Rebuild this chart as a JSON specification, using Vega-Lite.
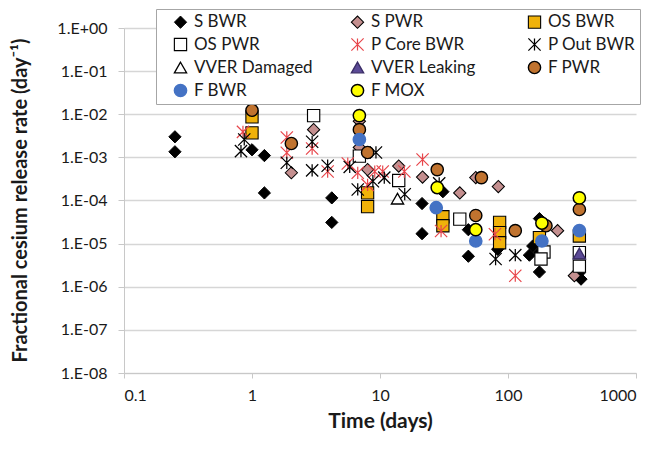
{
  "$schema": "https://vega.github.io/schema/vega-lite/v6.json",
  "autosize": {"type": "none"},
  "padding": {"left": 124, "top": 28, "right": 29, "bottom": 76},
  "width": 512,
  "height": 345,
  "config": {
    "view": {"stroke": null},
    "font": "Lato",
    "axis": {"labelFont": "Lato", "titleFont": "Lato", "labelColor": "#1a1a1a", "titleColor": "#1a1a1a"},
    "legend": {"labelFont": "Lato"}
  },
  "data": {"values": [
    {"s": "S BWR", "t": 0.25, "v": 0.0030},
    {"s": "S BWR", "t": 0.25, "v": 0.00135},
    {"s": "S BWR", "t": 1.0, "v": 0.0015},
    {"s": "S BWR", "t": 1.25, "v": 0.0011},
    {"s": "S BWR", "t": 1.25, "v": 0.00015},
    {"s": "S BWR", "t": 4.2, "v": 0.000115},
    {"s": "S BWR", "t": 4.2, "v": 0.000031},
    {"s": "S BWR", "t": 21.3, "v": 0.000085},
    {"s": "S BWR", "t": 21.3, "v": 0.000017},
    {"s": "S BWR", "t": 31, "v": 0.00016},
    {"s": "S BWR", "t": 49, "v": 0.000021},
    {"s": "S BWR", "t": 49, "v": 0.0000051},
    {"s": "S BWR", "t": 83, "v": 0.0000074},
    {"s": "S BWR", "t": 147, "v": 0.0000054},
    {"s": "S BWR", "t": 156, "v": 0.0000088},
    {"s": "S BWR", "t": 176, "v": 0.000038},
    {"s": "S BWR", "t": 176, "v": 0.0000062},
    {"s": "S BWR", "t": 176, "v": 0.0000022},
    {"s": "S BWR", "t": 361, "v": 0.0000021},
    {"s": "S BWR", "t": 372, "v": 0.0000015},
    {"s": "S PWR", "t": 2.03, "v": 0.00044},
    {"s": "S PWR", "t": 3.03, "v": 0.0044},
    {"s": "S PWR", "t": 6.9, "v": 0.0069},
    {"s": "S PWR", "t": 6.9, "v": 0.0017},
    {"s": "S PWR", "t": 8.0, "v": 0.00052},
    {"s": "S PWR", "t": 14.0, "v": 0.00063},
    {"s": "S PWR", "t": 21.5, "v": 0.00035},
    {"s": "S PWR", "t": 42, "v": 0.00015},
    {"s": "S PWR", "t": 56, "v": 0.00034},
    {"s": "S PWR", "t": 84, "v": 0.00021},
    {"s": "S PWR", "t": 244, "v": 0.000020},
    {"s": "S PWR", "t": 330, "v": 0.0000018},
    {"s": "OS BWR", "t": 1.0, "v": 0.0087},
    {"s": "OS BWR", "t": 1.0, "v": 0.0037},
    {"s": "OS BWR", "t": 8.0, "v": 0.00015},
    {"s": "OS BWR", "t": 8.0, "v": 0.000072},
    {"s": "OS BWR", "t": 31, "v": 0.000042},
    {"s": "OS BWR", "t": 31, "v": 0.000026},
    {"s": "OS BWR", "t": 86, "v": 0.000031},
    {"s": "OS BWR", "t": 86, "v": 0.000018},
    {"s": "OS BWR", "t": 86, "v": 0.0000105},
    {"s": "OS BWR", "t": 176, "v": 0.0000138},
    {"s": "OS BWR", "t": 361, "v": 0.000015},
    {"s": "OS PWR", "t": 3.03, "v": 0.0093},
    {"s": "OS PWR", "t": 6.9, "v": 0.00107},
    {"s": "OS PWR", "t": 14.0, "v": 0.00029},
    {"s": "OS PWR", "t": 42, "v": 0.000037},
    {"s": "OS PWR", "t": 191, "v": 0.0000064},
    {"s": "OS PWR", "t": 181, "v": 0.0000044},
    {"s": "OS PWR", "t": 361, "v": 0.0000062},
    {"s": "OS PWR", "t": 361, "v": 0.0000030},
    {"s": "P Core BWR", "t": 0.85, "v": 0.0039},
    {"s": "P Core BWR", "t": 1.87, "v": 0.0029},
    {"s": "P Core BWR", "t": 1.87, "v": 0.00128},
    {"s": "P Core BWR", "t": 2.95, "v": 0.0016},
    {"s": "P Core BWR", "t": 3.9, "v": 0.00047},
    {"s": "P Core BWR", "t": 5.6, "v": 0.00072},
    {"s": "P Core BWR", "t": 6.7, "v": 0.00044},
    {"s": "P Core BWR", "t": 8.0, "v": 0.00023},
    {"s": "P Core BWR", "t": 9.1, "v": 0.00047},
    {"s": "P Core BWR", "t": 10.5, "v": 0.00047},
    {"s": "P Core BWR", "t": 15.5, "v": 0.00047},
    {"s": "P Core BWR", "t": 21.5, "v": 0.00089},
    {"s": "P Core BWR", "t": 30, "v": 0.0000196},
    {"s": "P Core BWR", "t": 79, "v": 0.0000165},
    {"s": "P Core BWR", "t": 114, "v": 0.0000018},
    {"s": "P Out BWR", "t": 0.87, "v": 0.0026},
    {"s": "P Out BWR", "t": 0.82, "v": 0.0014},
    {"s": "P Out BWR", "t": 1.87, "v": 0.00075},
    {"s": "P Out BWR", "t": 2.95, "v": 0.0023},
    {"s": "P Out BWR", "t": 2.95, "v": 0.00050},
    {"s": "P Out BWR", "t": 3.9, "v": 0.00064},
    {"s": "P Out BWR", "t": 5.8, "v": 0.00060},
    {"s": "P Out BWR", "t": 6.7, "v": 0.00018},
    {"s": "P Out BWR", "t": 9.3, "v": 0.0013},
    {"s": "P Out BWR", "t": 10.8, "v": 0.00034},
    {"s": "P Out BWR", "t": 8.8, "v": 0.00028},
    {"s": "P Out BWR", "t": 15.6, "v": 0.00014},
    {"s": "P Out BWR", "t": 29, "v": 0.00025},
    {"s": "P Out BWR", "t": 80, "v": 0.0000044},
    {"s": "P Out BWR", "t": 114, "v": 0.0000054},
    {"s": "VVER Damaged", "t": 13.7, "v": 0.00011},
    {"s": "VVER  Leaking", "t": 361, "v": 0.0000059},
    {"s": "F PWR", "t": 1.0, "v": 0.0124},
    {"s": "F PWR", "t": 2.03, "v": 0.0021},
    {"s": "F PWR", "t": 6.9, "v": 0.0044},
    {"s": "F PWR", "t": 8.0, "v": 0.0013},
    {"s": "F PWR", "t": 28, "v": 0.00052},
    {"s": "F PWR", "t": 62, "v": 0.00034},
    {"s": "F PWR", "t": 56, "v": 0.000045},
    {"s": "F PWR", "t": 114, "v": 0.000020},
    {"s": "F PWR", "t": 198, "v": 0.000026},
    {"s": "F PWR", "t": 361, "v": 0.000062},
    {"s": "F BWR", "t": 6.9, "v": 0.0026},
    {"s": "F BWR", "t": 27.5, "v": 0.000068},
    {"s": "F BWR", "t": 56, "v": 0.0000115},
    {"s": "F BWR", "t": 184, "v": 0.0000115},
    {"s": "F BWR", "t": 361, "v": 0.000020},
    {"s": "F MOX", "t": 6.9, "v": 0.0093},
    {"s": "F MOX", "t": 28, "v": 0.00020},
    {"s": "F MOX", "t": 56, "v": 0.000021},
    {"s": "F MOX", "t": 184, "v": 0.000030},
    {"s": "F MOX", "t": 361, "v": 0.000115}
  ]},
  "mark": {"type": "point", "filled": true, "opacity": 1},
  "encoding": {
    "x": {
      "field": "t", "type": "quantitative",
      "scale": {"type": "log", "domain": [0.1, 1000], "nice": false},
      "axis": {
        "title": "Time (days)", "values": [0.1, 1, 10, 100, 1000], "format": "~g",
        "grid": false, "domainColor": "#c8c8c8", "tickColor": "#c8c8c8", "tickSize": 5,
        "labelFontSize": 16, "labelPadding": 9,
        "titleFontSize": 21, "titleFontWeight": "bold",
        "titleX": 256, "titleY": 48, "titleBaseline": "middle", "titleAlign": "center"
      }
    },
    "y": {
      "field": "v", "type": "quantitative",
      "scale": {"type": "log", "domain": [1e-8, 1], "nice": false},
      "axis": {
        "title": "Fractional cesium release rate (day⁻¹)",
        "values": [1, 0.1, 0.01, 0.001, 0.0001, 0.00001, 0.000001, 0.0000001, 0.00000001],
        "labelExpr": "'1.E' + (round(log(datum.value)/LN10) < 0 ? '-' : '+') + (abs(round(log(datum.value)/LN10)) < 10 ? '0' : '') + abs(round(log(datum.value)/LN10))",
        "grid": true, "gridColor": "#d6d6d6", "gridWidth": 1.5,
        "domainColor": "#c8c8c8", "tickColor": "#c8c8c8", "tickSize": 6,
        "labelFontSize": 16, "labelPadding": 11,
        "titleFontSize": 20, "titleFontWeight": "bold",
        "titleX": -104, "titleY": 172, "titleAngle": 270, "titleBaseline": "middle", "titleAlign": "center"
      }
    },
    "shape": {
      "field": "s", "type": "nominal",
      "scale": {
        "domain": ["S BWR", "S PWR", "OS BWR", "OS PWR", "P Core BWR", "P Out BWR", "VVER Damaged", "VVER  Leaking", "F PWR", "F BWR", "F MOX"],
        "range": ["diamond", "diamond", "square", "square", "M-1,-1L1,1M-1,1L1,-1M0,-1L0,1", "M-1,-1L1,1M-1,1L1,-1M0,-1L0,1", "triangle-up", "triangle-up", "circle", "circle", "circle"]
      },
      "legend": {
        "title": null, "orient": "none", "legendX": 32, "legendY": -19,
        "columns": 3, "direction": "horizontal", "gridAlign": "all",
        "strokeColor": "#a6a6a6", "fillColor": "white", "padding": 4,
        "symbolOffset": 12, "columnPadding": 24, "rowPadding": 4,
        "labelFontSize": 17, "labelColor": "#1a1a1a", "labelOffset": 5, "labelLimit": 300
      }
    },
    "fill": {
      "field": "s", "type": "nominal",
      "scale": {
        "domain": ["S BWR", "S PWR", "OS BWR", "OS PWR", "P Core BWR", "P Out BWR", "VVER Damaged", "VVER  Leaking", "F PWR", "F BWR", "F MOX"],
        "range": ["#000000", "#c48f8f", "#f0b20a", "#ffffff", "transparent", "transparent", "#ffffff", "#5b4a96", "#c0732f", "#4472c4", "#ffff00"]
      }
    },
    "stroke": {
      "field": "s", "type": "nominal",
      "scale": {
        "domain": ["S BWR", "S PWR", "OS BWR", "OS PWR", "P Core BWR", "P Out BWR", "VVER Damaged", "VVER  Leaking", "F PWR", "F BWR", "F MOX"],
        "range": ["#000000", "#000000", "#000000", "#000000", "#e8464b", "#000000", "#000000", "#3a2d66", "#000000", "#4472c4", "#000000"]
      }
    },
    "strokeWidth": {
      "field": "s", "type": "nominal",
      "scale": {
        "domain": ["S BWR", "S PWR", "OS BWR", "OS PWR", "P Core BWR", "P Out BWR", "VVER Damaged", "VVER  Leaking", "F PWR", "F BWR", "F MOX"],
        "range": [1, 1.5, 1.5, 1.5, 1, 2.5, 1.5, 1, 1.5, 1, 1.5]
      }
    },
    "size": {
      "field": "s", "type": "nominal",
      "scale": {
        "domain": ["S BWR", "S PWR", "OS BWR", "OS PWR", "P Core BWR", "P Out BWR", "VVER Damaged", "VVER  Leaking", "F PWR", "F BWR", "F MOX"],
        "range": [150, 150, 110, 110, 110, 100, 110, 110, 110, 110, 110]
      }
    }
  }
}
